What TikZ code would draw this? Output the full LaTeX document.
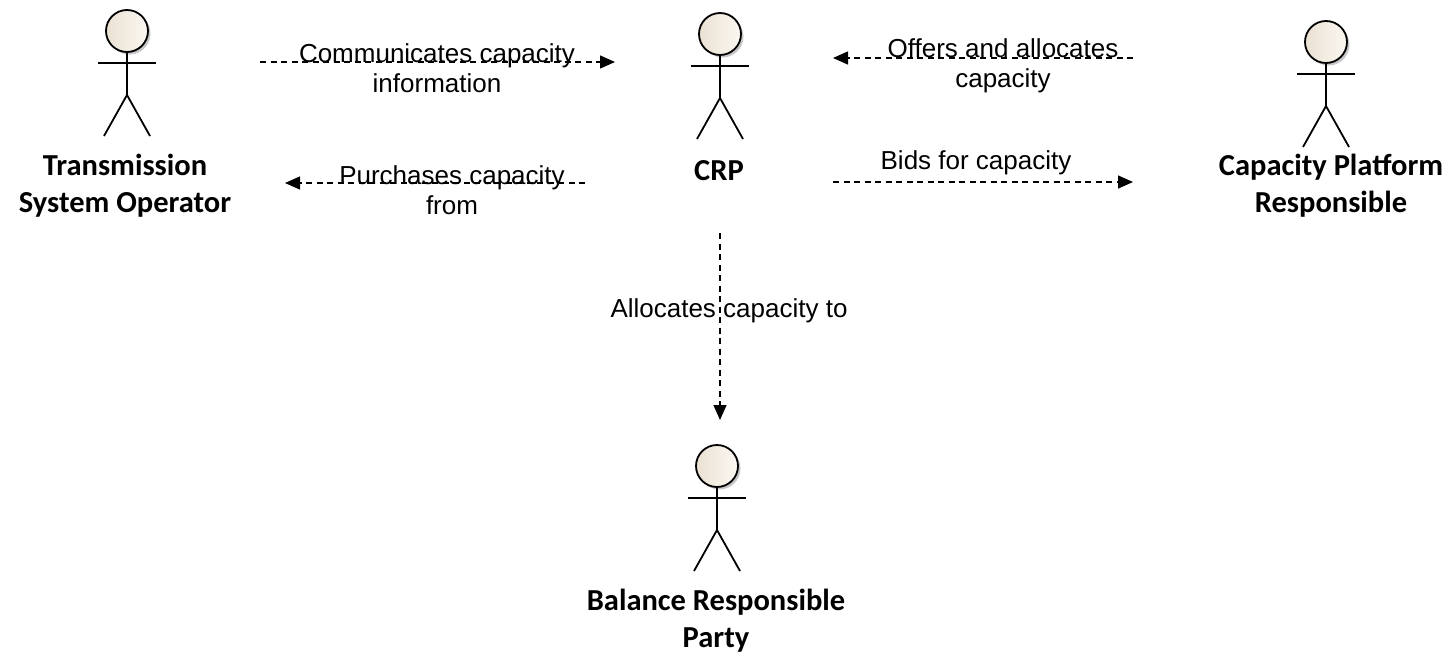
\documentclass[tikz,border=0pt]{standalone}
\usepackage{fontspec}
\setmainfont{Liberation Sans}
\newfontfamily\actorfont{Carlito}
\usetikzlibrary{arrows.meta}
\definecolor{headL}{RGB}{234,225,210}
\definecolor{headR}{RGB}{251,248,242}
\tikzset{
  actor/.pic={
    \coordinate (-c) at (0,0);
    \fill[black!22] (2.5,2.5) circle (21pt);
    \shade[left color=headL, right color=headR] (0,0) circle (21pt);
    \draw[line width=1.8pt] (0,0) circle (21pt);
    \draw[line width=1.8pt] (0,21) -- (0,64);
    \draw[line width=1.8pt] (-29,32) -- (29,32);
    \draw[line width=1.8pt] (-23,105) -- (0,64) -- (23,105);
  },
  conn/.style={draw, line width=1.4pt, dash pattern=on 6pt off 4.5pt,
    -{Triangle[length=15pt,width=13pt]}},
  clabel/.style={font=\fontsize{26}{30}\selectfont, align=center, inner sep=0pt},
  alabel/.style={font=\actorfont\bfseries\fontsize{30.5}{37}\selectfont, align=center, inner sep=0pt},
}
\begin{document}
\begin{tikzpicture}[x=1pt,y=-1pt]
  \useasboundingbox (0,0) rectangle (1448,656);
  % actors
  \pic (tso) at (127,31) {actor};
  \pic (crp) at (720,34) {actor};
  \pic (cpr) at (1326,42) {actor};
  \pic (brp) at (717,466) {actor};
  % actor labels
  \node[alabel] (tsoL) at (125,186) {Transmission\\System Operator};
  \node[alabel] (crpL) at (719,171) {CRP};
  \node[alabel] (cprL) at (1331,186) {Capacity Platform\\Responsible};
  \node[alabel] (brpL) at (716,621) {Balance Responsible\\Party};
  % connector labels
  \node[clabel] (l1) at (437,68) {Communicates capacity\\information};
  \node[clabel] (l2) at (452,190) {Purchases capacity\\from};
  \node[clabel] (l3) at (1003,66) {Offers and allocates\\capacity};
  \node[clabel] (l4) at (976,163) {Bids for capacity};
  \node[clabel] (l5) at (729,311) {Allocates capacity to};
  % connector endpoints
  \coordinate (c1a) at (260,62);  \coordinate (c1b) at (615,62);
  \coordinate (c2a) at (585,183); \coordinate (c2b) at (285,183);
  \coordinate (c3a) at (1133,58); \coordinate (c3b) at (833,58);
  \coordinate (c4a) at (833,182); \coordinate (c4b) at (1133,182);
  \coordinate (c5a) at (720,233); \coordinate (c5b) at (720,420);
  % connectors
  \draw[conn] (c1a) -- (c1b);
  \draw[conn] (c2a) -- (c2b);
  \draw[conn] (c3a) -- (c3b);
  \draw[conn] (c4a) -- (c4b);
  \draw[conn] (c5a) -- (c5b);
\end{tikzpicture}
\end{document}
